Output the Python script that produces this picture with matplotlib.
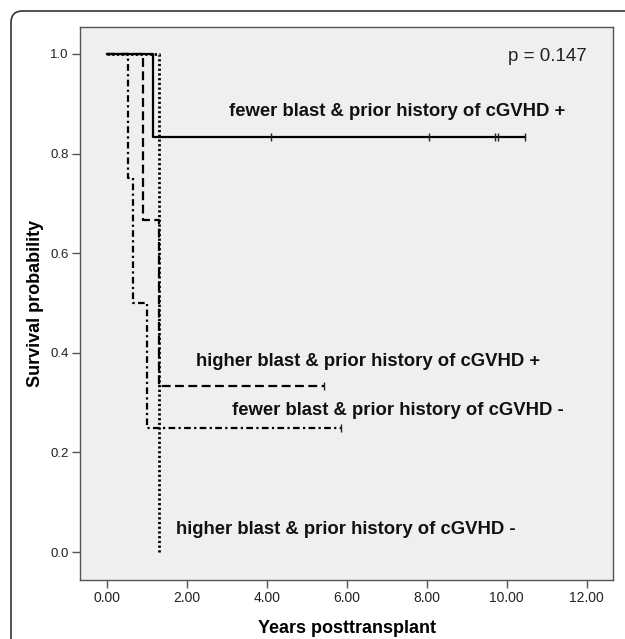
import matplotlib
matplotlib.use("Agg")
import matplotlib.pyplot as plt
from matplotlib.patches import FancyBboxPatch

# Kaplan-Meier step data
fewer_pos_t = [0.0, 1.15, 10.45]
fewer_pos_s = [1.0, 0.833, 0.833]
fewer_pos_cens_t = [4.1, 8.05, 9.7, 9.78, 10.45]
fewer_pos_cens_s = [0.833, 0.833, 0.833, 0.833, 0.833]

higher_pos_t = [0.0, 0.9, 1.3, 5.42]
higher_pos_s = [1.0, 0.667, 0.333, 0.333]
higher_pos_cens_t = [5.42]
higher_pos_cens_s = [0.333]

fewer_neg_t = [0.0, 0.52, 0.65, 1.0, 5.85]
fewer_neg_s = [1.0, 0.75, 0.5, 0.25, 0.25]
fewer_neg_cens_t = [5.85]
fewer_neg_cens_s = [0.25]

higher_neg_t = [0.0, 1.3]
higher_neg_s = [1.0, 0.0]

labels = ["fewer blast & prior history of cGVHD +",
          "higher blast & prior history of cGVHD +",
          "fewer blast & prior history of cGVHD -",
          "higher blast & prior history of cGVHD -"]
label_xy = [(3.04, 0.884), (2.22, 0.382), (3.12, 0.285), (1.72, 0.046)]

x_ticks = [0, 2, 4, 6, 8, 10, 12]
y_ticks = [0.0, 0.2, 0.4, 0.6, 0.8, 1.0]

font = "Liberation Sans"

fig = plt.figure(figsize=(6.25, 6.39), dpi=100)
W, H = 625, 639

# rounded journal frame (only left/top visible)
frame = FancyBboxPatch((11 / W, -0.1), 1.2, 1.1 - 11 / H,
                       boxstyle="round,pad=0,rounding_size=0.018",
                       transform=fig.transFigure, fill=False,
                       edgecolor="#333333", linewidth=1.2)
fig.patches.append(frame)

ax = fig.add_axes([80 / W, 1 - 580 / H, (613 - 80) / W, (580 - 27) / H])
ax.set_facecolor("#efefef")
for sp in ax.spines.values():
    sp.set_color("#555555")
    sp.set_linewidth(1.0)

lw = 1.6
ax.plot(fewer_pos_t, fewer_pos_s, drawstyle="steps-post", color="black", lw=lw)
ax.plot(higher_pos_t, higher_pos_s, drawstyle="steps-post", color="black", lw=lw,
        linestyle=(0, (4, 2)))
ax.plot(fewer_neg_t, fewer_neg_s, drawstyle="steps-post", color="black", lw=lw,
        linestyle=(0, (3, 1.5, 1, 1.5)))
ax.plot(higher_neg_t, higher_neg_s, drawstyle="steps-post", color="black", lw=2.0,
        linestyle=(0, (0.8, 0.9)))

for ct, cs in [(fewer_pos_cens_t, fewer_pos_cens_s),
               (higher_pos_cens_t, higher_pos_cens_s),
               (fewer_neg_cens_t, fewer_neg_cens_s)]:
    ax.plot(ct, cs, linestyle="none", marker="|", markersize=6,
            markeredgewidth=1.0, color="#222222")

for txt, (x, y) in zip(labels, label_xy):
    ax.text(x, y, txt, fontsize=13.3, fontweight="bold", family=font,
            ha="left", va="center", color="#111111")

ax.text(12.0, 0.994, "p = 0.147", fontsize=13.5, family=font,
        ha="right", va="center", color="#222222")

ax.set_xlim(-0.683, 12.66)
ax.set_ylim(-0.056, 1.054)
ax.set_xticks(x_ticks)
ax.set_xticklabels([f"{v:.2f}" for v in x_ticks], family=font, fontsize=10)
ax.set_yticks(y_ticks)
ax.set_yticklabels([f"{v:.1f}" for v in y_ticks], family=font, fontsize=9.5)
ax.tick_params(direction="out", length=6, width=1, color="#555555",
               labelcolor="#222222", pad=2)

ax.set_xlabel("Years posttransplant", fontsize=13, fontweight="bold", family=font,
              va="center")
ax.set_ylabel("Survival probability", fontsize=13, fontweight="bold", family=font,
              va="center")
ax.xaxis.set_label_coords(0.5, -0.0868)
ax.yaxis.set_label_coords(-0.0826, 0.5)

fig.savefig("out.png", dpi=100)
